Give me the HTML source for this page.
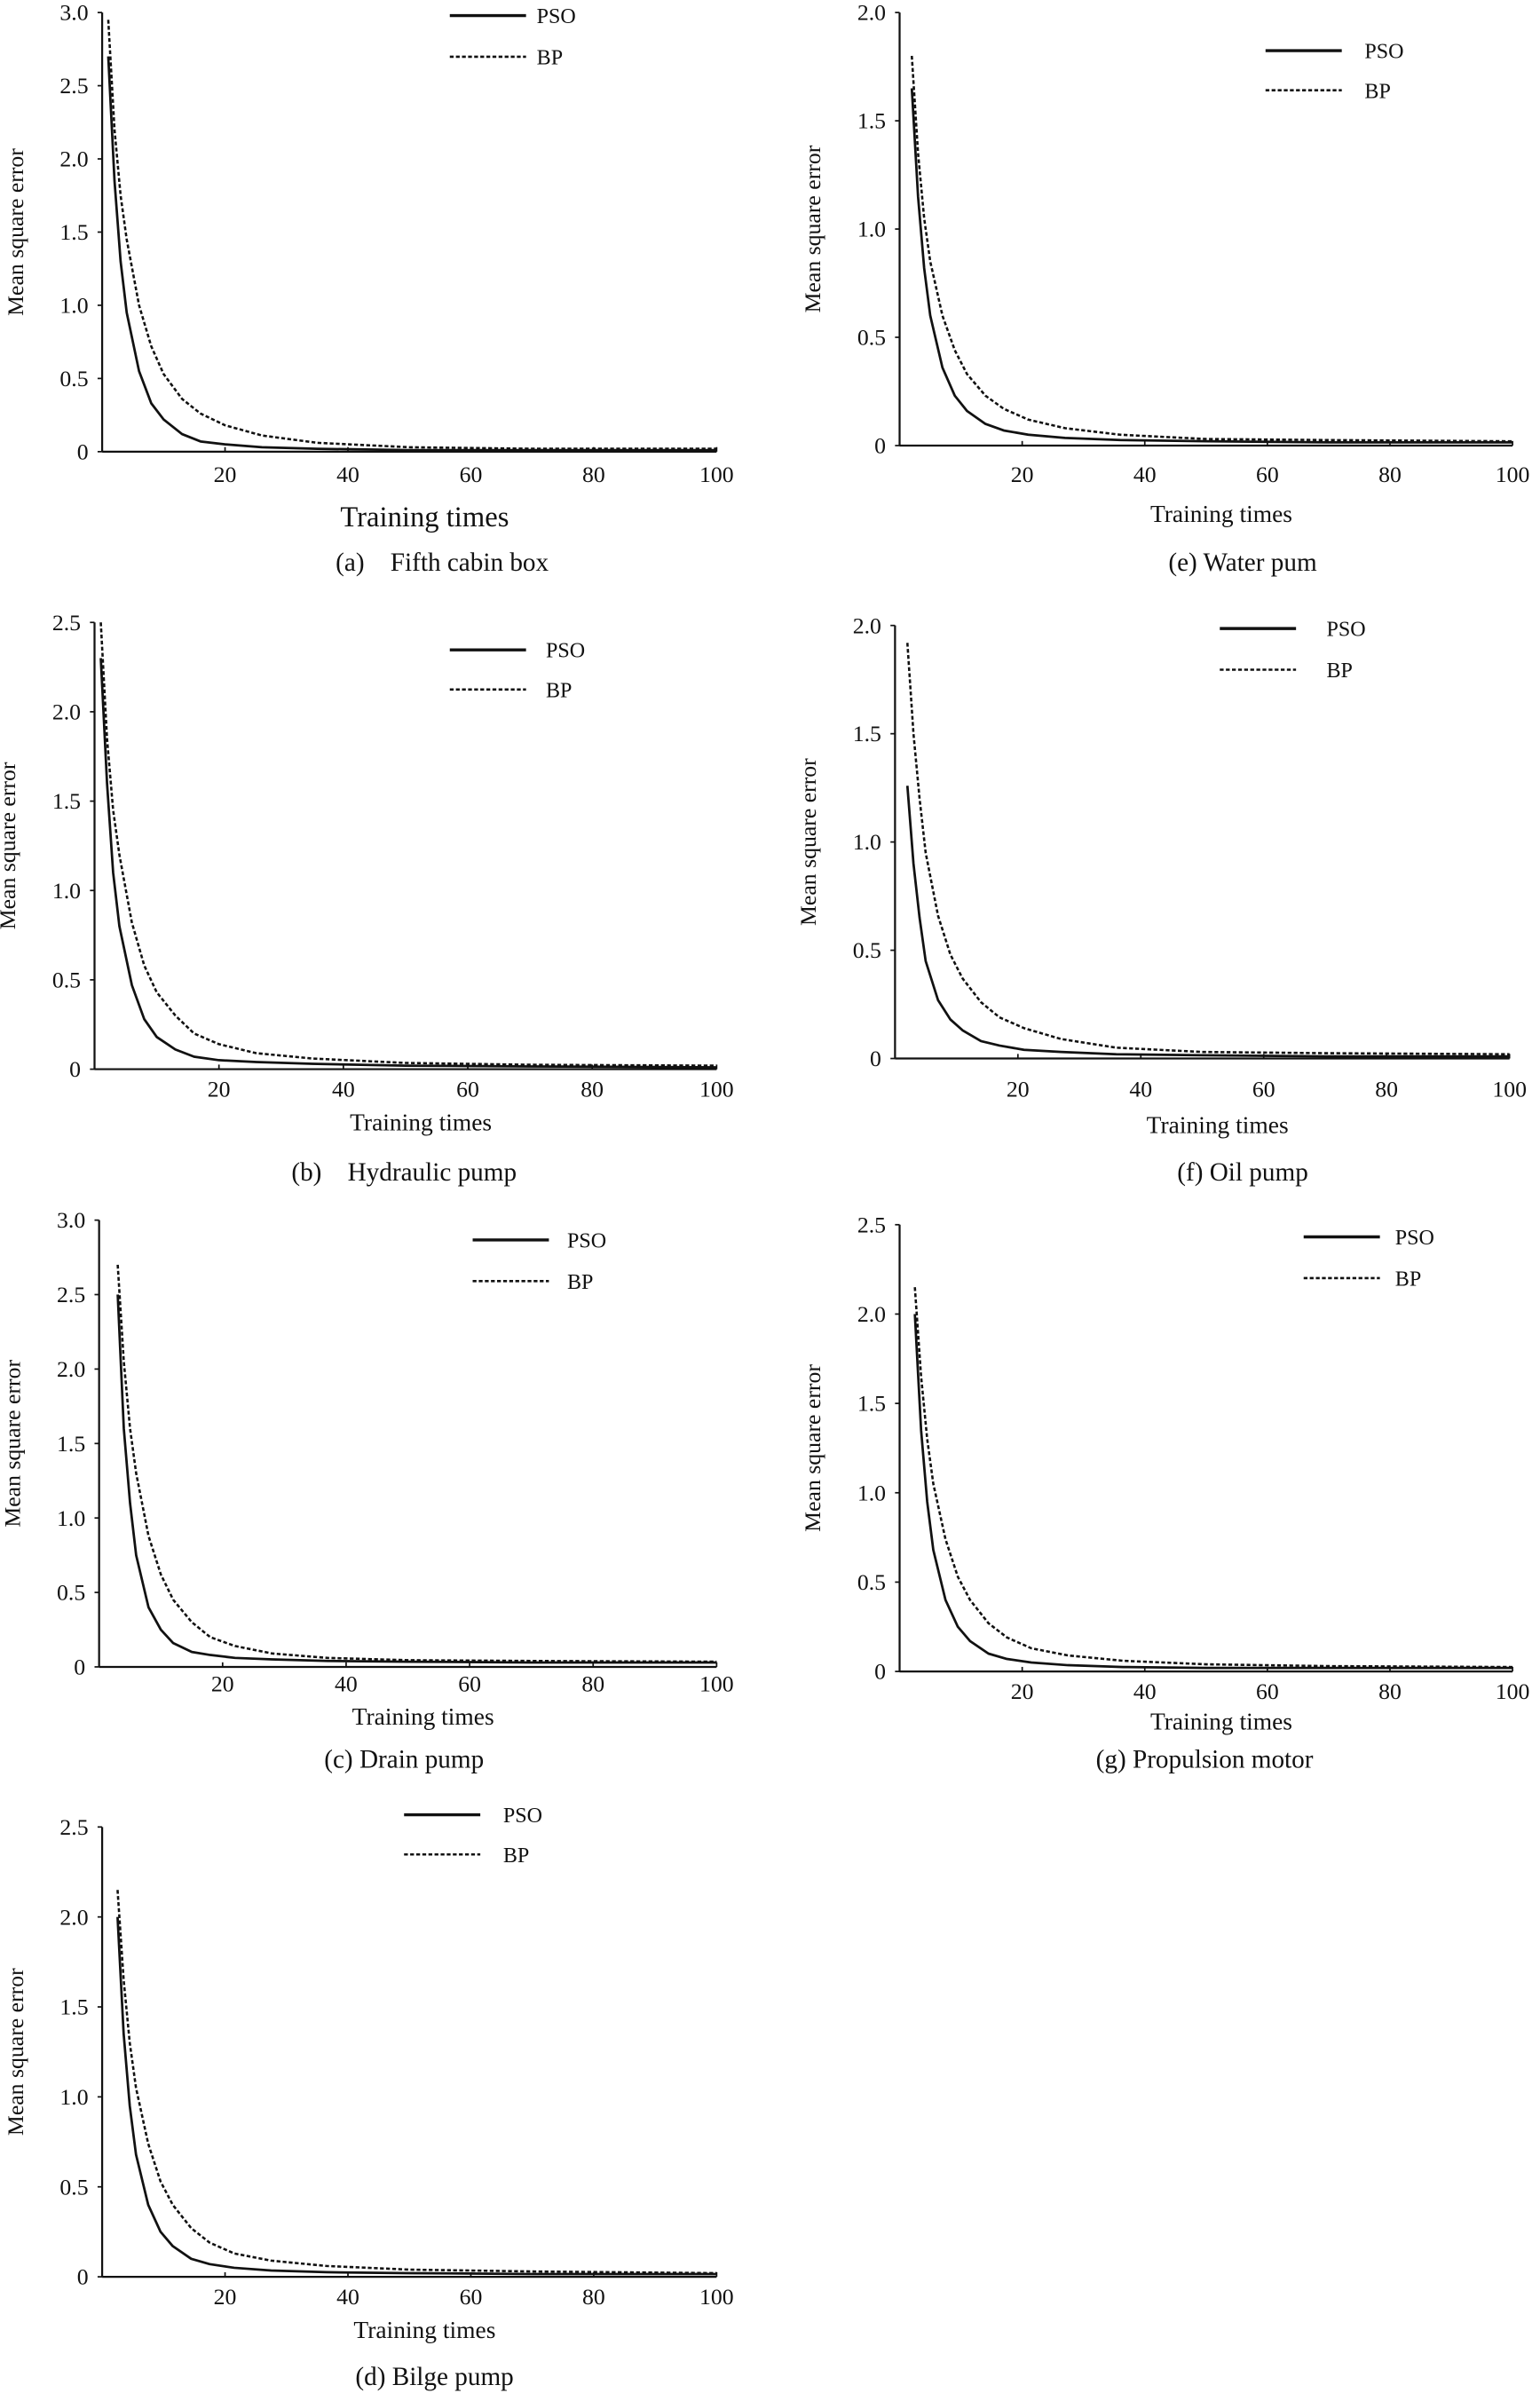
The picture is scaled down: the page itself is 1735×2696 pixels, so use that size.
<!DOCTYPE html>
<html><head><meta charset="utf-8"><style>
html,body{margin:0;padding:0;background:#fff}
svg{display:block}
text{font-family:"Liberation Serif",serif;fill:#111}
</style></head><body>
<svg id="fig" width="1735" height="2696" viewBox="0 0 1010 1569" xmlns="http://www.w3.org/2000/svg"></svg>
<script>
// ---- data (top level) ----
const timesA=[1,2,3,4,6,8,10,13,16,20,26,35,50,70,100];
const psoA=[2.7,1.85,1.3,0.95,0.55,0.33,0.22,0.12,0.07,0.05,0.03,0.02,0.01,0.01,0.01];
const bpA=[2.95,2.2,1.75,1.45,1.0,0.72,0.53,0.36,0.26,0.18,0.11,0.06,0.03,0.02,0.02];
const timesE=[2,3,4,5,7,9,11,14,17,21,27,36,50,70,100];
const psoE=[1.65,1.15,0.82,0.6,0.36,0.23,0.16,0.1,0.07,0.05,0.035,0.025,0.02,0.015,0.015];
const bpE=[1.8,1.35,1.05,0.85,0.6,0.44,0.33,0.23,0.17,0.12,0.08,0.05,0.03,0.025,0.02];
const timesB=[1,2,3,4,6,8,10,13,16,20,26,35,50,70,100];
const psoB=[2.3,1.6,1.1,0.8,0.47,0.28,0.18,0.11,0.07,0.05,0.04,0.03,0.02,0.015,0.01];
const bpB=[2.5,1.85,1.45,1.2,0.82,0.58,0.43,0.3,0.2,0.14,0.09,0.06,0.035,0.025,0.02];
const timesF=[2,3,4,5,7,9,11,14,17,21,27,36,50,70,100];
const psoF=[1.26,0.9,0.65,0.45,0.27,0.18,0.13,0.08,0.06,0.04,0.03,0.02,0.015,0.01,0.01];
const bpF=[1.92,1.5,1.2,0.95,0.66,0.48,0.37,0.26,0.19,0.14,0.09,0.05,0.03,0.025,0.02];
const timesC=[3,4,5,6,8,10,12,15,18,22,28,37,50,70,100];
const psoC=[2.5,1.6,1.1,0.75,0.4,0.25,0.16,0.1,0.08,0.06,0.05,0.04,0.035,0.03,0.03];
const bpC=[2.7,2.05,1.6,1.3,0.88,0.62,0.45,0.3,0.2,0.14,0.09,0.06,0.045,0.04,0.035];
const timesG=[2.5,3.5,4.5,5.5,7.5,9.5,11.5,14.5,17.5,21.5,27.5,36.5,50,70,100];
const psoG=[2.0,1.35,0.95,0.68,0.4,0.25,0.17,0.1,0.07,0.05,0.035,0.025,0.02,0.02,0.02];
const bpG=[2.15,1.65,1.3,1.05,0.74,0.53,0.4,0.27,0.19,0.13,0.09,0.06,0.04,0.03,0.025];
const timesD=[2.5,3.5,4.5,5.5,7.5,9.5,11.5,14.5,17.5,21.5,27.5,36.5,50,70,100];
const psoD=[2.0,1.35,0.95,0.68,0.4,0.25,0.17,0.1,0.07,0.05,0.035,0.025,0.02,0.015,0.015];
const bpD=[2.15,1.65,1.3,1.05,0.74,0.53,0.4,0.27,0.19,0.13,0.09,0.06,0.04,0.03,0.02];
const xTicks=[20,40,60,80,100];
const yTicks30=["0","0.5","1.0","1.5","2.0","2.5","3.0"];
const yTicks25=["0","0.5","1.0","1.5","2.0","2.5"];
const yTicks20=["0","0.5","1.0","1.5","2.0"];

const NS="http://www.w3.org/2000/svg";
const svg=document.getElementById('fig');
function mk(tag,attrs,parent){const e=document.createElementNS(NS,tag);for(const k in attrs)e.setAttribute(k,attrs[k]);(parent||svg).appendChild(e);return e;}
function txt(s,attrs,parent){const e=mk('text',attrs,parent);e.textContent=s;return e;}

const panels=[
 {id:'a',x0:67,x1:470,yt:8,yb:296,ymax:3.0,yl:yTicks30,t:timesA,p:psoA,b:bpA,lg:[295,345,10,37,352],tickY:316,ttY:345,ttSize:19,cap:'(a)\u00a0\u00a0\u00a0 Fifth cabin box',capX:290,capY:374},
 {id:'e',x0:590,x1:992,yt:8,yb:292,ymax:2.0,yl:yTicks20,t:timesE,p:psoE,b:bpE,lg:[830,880,33,59,895],tickY:316,ttY:342,ttSize:16,cap:'(e) Water pum',capX:815,capY:374},
 {id:'b',x0:62,x1:470,yt:408,yb:701,ymax:2.5,yl:yTicks25,t:timesB,p:psoB,b:bpB,lg:[295,345,426,452,358],tickY:719,ttY:741,ttSize:16,cap:'(b)\u00a0\u00a0\u00a0 Hydraulic pump',capX:265,capY:774},
 {id:'f',x0:587,x1:990,yt:410,yb:694,ymax:2.0,yl:yTicks20,t:timesF,p:psoF,b:bpF,lg:[800,850,412,439,870],tickY:719,ttY:743,ttSize:16,cap:'(f) Oil pump',capX:815,capY:774},
 {id:'c',x0:65,x1:470,yt:800,yb:1093,ymax:3.0,yl:yTicks30,t:timesC,p:psoC,b:bpC,lg:[310,360,813,840,372],tickY:1109,ttY:1131,ttSize:16,cap:'(c) Drain pump',capX:265,capY:1159},
 {id:'g',x0:590,x1:992,yt:803,yb:1096,ymax:2.5,yl:yTicks25,t:timesG,p:psoG,b:bpG,lg:[855,905,811,838,915],tickY:1114,ttY:1134,ttSize:16,cap:'(g) Propulsion motor',capX:790,capY:1159},
 {id:'d',x0:67,x1:470,yt:1198,yb:1493,ymax:2.5,yl:yTicks25,t:timesD,p:psoD,b:bpD,lg:[265,315,1190,1216,330],tickY:1511,ttY:1533,ttSize:16,cap:'(d) Bilge pump',capX:285,capY:1564}
];

panels.forEach(P=>{
  const g=mk('g',{});
  
  
  const sx=v=>P.x0+(P.x1-P.x0)*v/100;
  const sy=v=>P.yb-(P.yb-P.yt)*v/P.ymax;
  const ya=mk('line',{x1:P.x0,y1:P.yt,x2:P.x0,y2:P.yb,stroke:'#111','stroke-width':1.3},g);
  
  
  const xa=mk('line',{x1:P.x0,y1:P.yb,x2:P.x1,y2:P.yb,stroke:'#111','stroke-width':1.3},g);
  
  
  P.yl.forEach((l,i)=>{
    const v=parseFloat(l);const y=sy(v);
    mk('line',{x1:P.x0-3,y1:y,x2:P.x0,y2:y,stroke:'#111','stroke-width':1},g);
    const t=txt(l,{x:P.x0-9,y:y+5,'text-anchor':'end','font-size':15},g);
    
    
  });
  xTicks.forEach(v=>{
    const x=sx(v);
    mk('line',{x1:x,y1:P.yb,x2:x,y2:P.yb-3,stroke:'#111','stroke-width':1},g);
    const t=txt(String(v),{x:x,y:P.tickY,'text-anchor':'middle','font-size':15},g);
    
    
  });
  const yt=txt('Mean square error',{x:0,y:0,'text-anchor':'middle','font-size':15,transform:`translate(${P.x0-52},${(P.yt+P.yb)/2}) rotate(-90)`},g);
  
  
  const xt=txt('Training times',{x:(P.x0+P.x1)/2+10,y:P.ttY,'text-anchor':'middle','font-size':P.ttSize},g);
  
  
  const cp=txt(P.cap,{x:P.capX,y:P.capY,'text-anchor':'middle','font-size':17},g);
  
  
  const ptsP=P.t.map((t,i)=>sx(t).toFixed(1)+','+sy(P.p[i]).toFixed(1)).join(' ');
  const ptsB=P.t.map((t,i)=>sx(t).toFixed(1)+','+sy(P.b[i]).toFixed(1)).join(' ');
  const lb=mk('polyline',{points:ptsB,fill:'none',stroke:'#111','stroke-width':1.5,'stroke-dasharray':'2.5,1.5','stroke-linejoin':'round'},g);
  
  
  const lp=mk('polyline',{points:ptsP,fill:'none',stroke:'#111','stroke-width':1.6,'stroke-linejoin':'round'},g);
  
  
  const L=P.lg;
  const l1=mk('line',{x1:L[0],y1:L[2],x2:L[1],y2:L[2],stroke:'#111','stroke-width':2},g);
  
  
  const t1=txt('PSO',{x:L[4],y:L[2]+5,'font-size':14},g);
  
  
  const l2=mk('line',{x1:L[0],y1:L[3],x2:L[1],y2:L[3],stroke:'#111','stroke-width':1.5,'stroke-dasharray':'2.5,1.5'},g);
  
  
  const t2=txt('BP',{x:L[4],y:L[3]+5,'font-size':14},g);
  
  
});
</script>
</body></html>
